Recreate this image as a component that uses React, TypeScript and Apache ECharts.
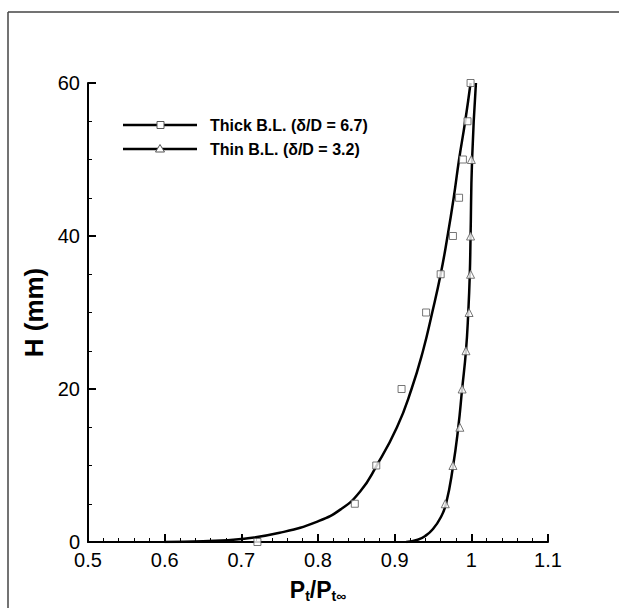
import React, { useEffect, useRef } from "react";
import * as echarts from "echarts";

// Thick B.L. fitted curve (Pt/Pt∞, H mm)
const thickCurve: [number, number][] = [
  [0.6, 0], [0.65, 0.1], [0.7, 0.4], [0.75, 1.2], [0.8, 2.7], [0.83, 4.3],
  [0.855, 6.6], [0.876, 9.9], [0.903, 15], [0.922, 20], [0.937, 25],
  [0.949, 30], [0.96, 35], [0.969, 40], [0.977, 45], [0.984, 50],
  [0.992, 55], [0.999, 60],
];
// Thin B.L. fitted curve
const thinCurve: [number, number][] = [
  [0.915, 0], [0.93, 0.3], [0.94, 0.8], [0.95, 1.7], [0.96, 3.2],
  [0.967, 5], [0.976, 9.8], [0.983, 15], [0.988, 20],
  [0.993, 25], [0.996, 30], [0.998, 35], [0.999, 40], [1.001, 50], [1.006, 60],
];
// Measured points
const thickPoints: [number, number][] = [
  [0.721, 0], [0.848, 5], [0.876, 10], [0.909, 20], [0.941, 30], [0.96, 35],
  [0.976, 40], [0.984, 45], [0.989, 50], [0.995, 55], [0.999, 60],
];
const thinPoints: [number, number][] = [
  [0.966, 5], [0.976, 10], [0.985, 15], [0.988, 20], [0.993, 25],
  [0.997, 30], [0.999, 35], [0.999, 40], [1.0, 50],
];
const legendNames = ["Thick B.L. (δ/D = 6.7)", "Thin B.L. (δ/D = 3.2)"];

const FONT = "'Liberation Sans', Arial, sans-serif";

export default function App() {
  const ref = useRef<HTMLDivElement>(null);
  useEffect(() => {
    if (!ref.current) return;
    const chart = echarts.init(ref.current, undefined, { renderer: "svg" });
    const markerStyle = { color: "#fff", borderColor: "#555", borderWidth: 1 };
    chart.setOption({
      animation: false,
      backgroundColor: "#fff",
      grid: { left: 88, right: 71, top: 83, bottom: 65, containLabel: false },
      xAxis: {
        type: "value",
        min: 0.5,
        max: 1.1,
        interval: 0.1,
        name: "{b|P}{s|t}{b|/P}{s|t∞}",
        nameLocation: "middle",
        nameGap: 35,
        nameTextStyle: {
          rich: {
            b: { fontFamily: FONT, fontWeight: "bold", fontSize: 23, color: "#000" },
            s: { fontFamily: FONT, fontWeight: "bold", fontSize: 14, color: "#000", verticalAlign: "bottom", padding: [12, 0, 0, 0] },
          },
        },
        axisLine: { show: true, lineStyle: { color: "#000", width: 2 } },
        axisTick: { show: true, inside: true, length: 8, lineStyle: { color: "#000", width: 2 } },
        minorTick: { show: true, splitNumber: 5, length: 4, lineStyle: { color: "#000", width: 1 } },
        splitLine: { show: false },
        axisLabel: { fontFamily: FONT, fontSize: 20, color: "#000", margin: 8 },
      },
      yAxis: {
        type: "value",
        min: 0,
        max: 60,
        interval: 20,
        name: "H (mm)",
        nameLocation: "middle",
        nameGap: 37,
        nameTextStyle: { fontFamily: FONT, fontWeight: "bold", fontSize: 26, color: "#000" },
        axisLine: { show: true, lineStyle: { color: "#000", width: 2 } },
        axisTick: { show: true, inside: true, length: 8, lineStyle: { color: "#000", width: 2 } },
        minorTick: { show: true, splitNumber: 4, length: 4, lineStyle: { color: "#000", width: 1 } },
        splitLine: { show: false },
        axisLabel: { fontFamily: FONT, fontSize: 20, color: "#000", margin: 8 },
      },
      series: [
        {
          type: "line", data: thickCurve, smooth: 0.5,
          showSymbol: false, lineStyle: { color: "#000", width: 2.5 }, z: 2,
        },
        {
          type: "line", data: thinCurve, smooth: 0.5,
          showSymbol: false, lineStyle: { color: "#000", width: 2.5 }, z: 2,
        },
        { type: "scatter", data: thickPoints, symbol: "rect", symbolSize: 7, itemStyle: markerStyle, z: 3 },
        { type: "scatter", data: thinPoints, symbol: "triangle", symbolSize: 8, itemStyle: markerStyle, z: 3 },
      ],
      graphic: [
        { type: "line", shape: { x1: 8, y1: 12, x2: 619, y2: 12 }, style: { stroke: "#444", lineWidth: 1.5 } },
        { type: "line", shape: { x1: 8, y1: 12, x2: 8, y2: 608 }, style: { stroke: "#444", lineWidth: 1.5 } },
        { type: "line", shape: { x1: 123, y1: 125, x2: 197, y2: 125 }, style: { stroke: "#000", lineWidth: 2.5 } },
        { type: "rect", shape: { x: 157, y: 121.5, width: 7, height: 7 }, style: { fill: "#fff", stroke: "#555", lineWidth: 1 } },
        { type: "text", x: 210, y: 125, style: { text: legendNames[0], font: `bold 16px ${FONT}`, fill: "#000", verticalAlign: "middle" } },
        { type: "line", shape: { x1: 123, y1: 149, x2: 197, y2: 149 }, style: { stroke: "#000", lineWidth: 2.5 } },
        { type: "polygon", shape: { points: [[160, 144.5], [164.5, 152], [155.5, 152]] }, style: { fill: "#fff", stroke: "#555", lineWidth: 1 } },
        { type: "text", x: 210, y: 149, style: { text: legendNames[1], font: `bold 16px ${FONT}`, fill: "#000", verticalAlign: "middle" } },
      ],
    });
    return () => chart.dispose();
  }, []);
  return (
    <div
      ref={ref}
      style={{ position: "fixed", left: 0, top: 0, width: 619, height: 608, background: "#fff" }}
    />
  );
}
